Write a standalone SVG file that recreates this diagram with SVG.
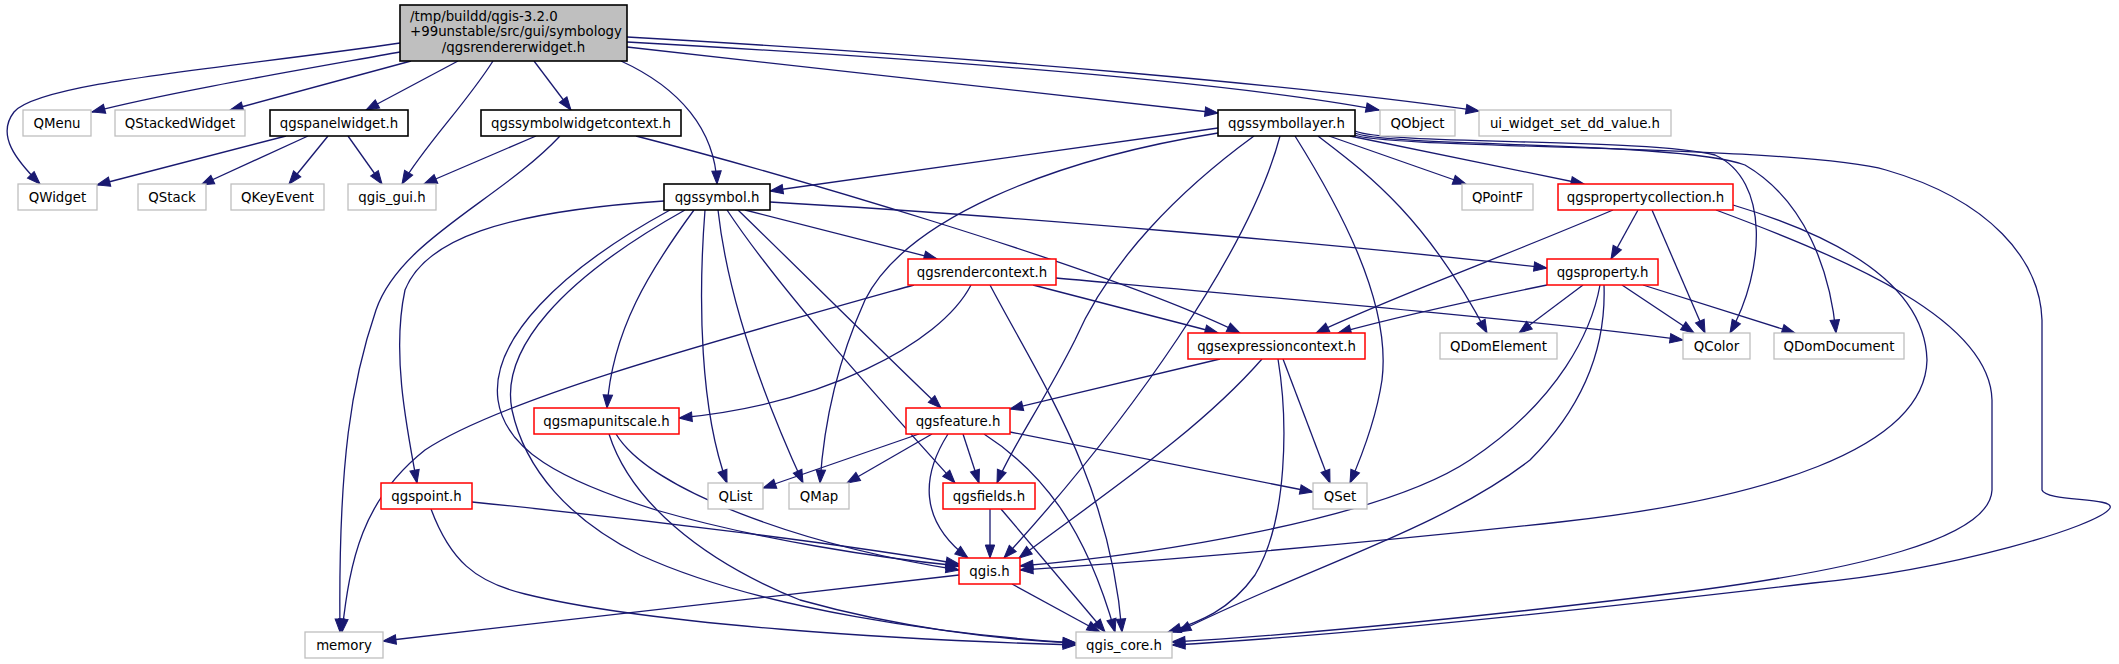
<svg xmlns="http://www.w3.org/2000/svg" width="2119" height="664" viewBox="0 0 2119 664">
<style>
.n rect{fill:#fff;stroke-width:1.3}
.g rect{stroke:#bfbfbf}
.b rect{stroke:#000;stroke-width:1.6}
.r rect{stroke:#ff0000;stroke-width:1.5}
.m rect{fill:#bfbfbf;stroke:#000;stroke-width:1.6}
text{font-family:"DejaVu Sans",sans-serif;font-size:13.33px;fill:#000;text-anchor:middle}
.e path{fill:none;stroke:#191970;stroke-width:1.3;marker-end:url(#arr)}
</style>
<defs>
<marker id="arr" markerUnits="userSpaceOnUse" markerWidth="14" markerHeight="10" refX="13" refY="4.7" orient="auto" overflow="visible"><path d="M0,0 L13,4.7 L0,9.4 z" fill="#191970" stroke="#191970" stroke-width="1"/></marker>
</defs>
<rect width="2119" height="664" fill="#fff"/>
<g id="connectors" class="e">
<path d="M400,43 C 230,68 40,82 14,112 C -4,135 16,160 40,184"/>
<path d="M400,52 C 300,70 170,92 92,112"/>
<path d="M411,61 L230,110"/>
<path d="M458,61 L366,110"/>
<path d="M493,61 C 465,105 425,145 402,184"/>
<path d="M534,61 L571,110"/>
<path d="M621,61 C 680,88 715,130 717,184"/>
<path d="M627,47 L1218,113"/>
<path d="M627,42 C 950,60 1230,82 1379,110"/>
<path d="M627,37 C 1000,58 1320,88 1479,111"/>
<path d="M286,136 L97,185"/>
<path d="M308,136 L201,185"/>
<path d="M328,136 L289,184"/>
<path d="M348,136 L382,184"/>
<path d="M536,136 L424,184"/>
<path d="M560,136 C 500,200 400,240 376,310 C 352,380 338,460 340,632"/>
<path d="M636,136 C 760,168 1100,265 1240,333"/>
<path d="M664,201 C 500,212 425,240 405,290 C 392,350 405,420 417,483"/>
<path d="M670,210 C 560,270 490,340 498,400 C 505,450 560,480 656,510 C 760,540 880,558 959,566"/>
<path d="M685,210 C 560,280 500,350 512,410 C 525,470 570,520 640,555 C 760,610 950,635 1076,643"/>
<path d="M694,210 C 650,270 612,330 607,408"/>
<path d="M705,210 C 698,300 700,410 727,483"/>
<path d="M718,210 C 728,300 765,400 803,483"/>
<path d="M727,210 C 780,290 880,400 955,483"/>
<path d="M738,210 C 800,270 875,345 941,408"/>
<path d="M745,210 L937,259"/>
<path d="M770,202 C 1000,215 1350,245 1547,268"/>
<path d="M1218,128 L770,191"/>
<path d="M1218,133 C 1050,160 905,220 865,300 C 838,360 824,420 820,483"/>
<path d="M1254,136 C 1180,190 1110,260 1075,340 C 1045,400 1010,450 997,483"/>
<path d="M1280,136 C 1250,250 1130,420 1004,558"/>
<path d="M1295,136 C 1335,200 1392,300 1382,380 C 1376,420 1360,460 1350,483"/>
<path d="M1318,136 C 1365,172 1425,215 1487,333"/>
<path d="M1329,136 L1466,184"/>
<path d="M1350,136 L1584,184"/>
<path d="M1355,131 C 1385,145 1650,138 1715,155 C 1770,180 1765,270 1730,333"/>
<path d="M1355,133 C 1385,147 1680,141 1745,165 C 1805,200 1830,270 1836,333"/>
<path d="M1355,135 C 1385,149 1800,145 1886,170 C 1990,200 2040,260 2042,320 L2042,490 C 2046,502 2115,497 2110,508 C 2100,526 1950,570 1813,583 C 1600,608 1350,635 1172,645"/>
<path d="M1638,210 L1611,259"/>
<path d="M1613,210 C 1500,258 1385,300 1316,333"/>
<path d="M1652,210 L1705,333"/>
<path d="M1733,205 C 1850,240 1925,290 1927,360 C 1925,450 1760,500 1560,522 C 1300,550 1100,565 1020,570"/>
<path d="M1716,210 C 1850,260 1990,320 1992,400 L1992,490 C 1990,540 1850,570 1700,590 C 1500,615 1300,635 1172,642"/>
<path d="M914,285 C 700,345 500,400 425,450 C 362,500 350,560 342,632"/>
<path d="M971,285 C 940,345 820,405 679,418"/>
<path d="M990,285 C 1040,380 1110,480 1122,632"/>
<path d="M1033,285 L1218,333"/>
<path d="M1056,278 C 1300,300 1550,322 1683,340"/>
<path d="M1547,285 C 1450,305 1385,320 1338,333"/>
<path d="M1583,285 L1519,333"/>
<path d="M1622,285 L1694,333"/>
<path d="M1643,285 L1795,333"/>
<path d="M1600,285 C 1592,330 1560,400 1470,460 C 1380,520 1150,555 1020,566"/>
<path d="M1604,285 C 1606,340 1590,400 1530,460 C 1440,530 1300,570 1178,632"/>
<path d="M1220,359 L1010,409"/>
<path d="M1262,359 C 1200,430 1110,490 1019,558"/>
<path d="M1278,359 C 1288,420 1288,520 1255,575 C 1230,610 1200,622 1168,632"/>
<path d="M1283,359 L1330,483"/>
<path d="M919,434 L763,488"/>
<path d="M932,434 L847,483"/>
<path d="M948,434 C 922,475 918,520 968,558"/>
<path d="M963,434 L979,483"/>
<path d="M984,434 C 1040,470 1085,525 1115,632"/>
<path d="M1010,432 L1313,492"/>
<path d="M990,509 L990,558"/>
<path d="M1001,509 L1105,632"/>
<path d="M959,575 L383,641"/>
<path d="M1012,584 L1100,632"/>
<path d="M472,502 C 650,520 850,545 959,564"/>
<path d="M431,509 C 450,560 475,582 525,594 C 650,625 900,640 1076,645"/>
<path d="M616,434 C 650,490 800,545 959,570"/>
<path d="M609,434 C 630,500 700,560 800,600 C 900,628 1000,640 1076,643"/>
</g>
<g id="main" class="n m"><rect x="400" y="5" width="227" height="56"/><text x="410" y="21" style="text-anchor:start">/tmp/buildd/qgis-3.2.0</text><text x="410" y="36" style="text-anchor:start">+99unstable/src/gui/symbology</text><text x="513.5" y="52">/qgsrendererwidget.h</text></g>
<g id="QMenu" class="n g"><rect x="23" y="110" width="68" height="26"/><text x="57" y="127.5">QMenu</text></g>
<g id="QStackedWidget" class="n g"><rect x="115" y="110" width="130" height="26"/><text x="180" y="127.5">QStackedWidget</text></g>
<g id="qgspanelwidget" class="n b"><rect x="270" y="110" width="138" height="26"/><text x="339" y="127.5">qgspanelwidget.h</text></g>
<g id="qgssymbolwidgetcontext" class="n b"><rect x="481" y="110" width="200" height="26"/><text x="581" y="127.5">qgssymbolwidgetcontext.h</text></g>
<g id="qgssymbollayer" class="n b"><rect x="1218" y="110" width="137" height="26"/><text x="1286.5" y="127.5">qgssymbollayer.h</text></g>
<g id="QObject" class="n g"><rect x="1380" y="110" width="75" height="26"/><text x="1417.5" y="127.5">QObject</text></g>
<g id="ui_widget_set_dd_value" class="n g"><rect x="1479" y="110" width="192" height="26"/><text x="1575" y="127.5">ui_widget_set_dd_value.h</text></g>
<g id="QWidget" class="n g"><rect x="18" y="184" width="79" height="26"/><text x="57.5" y="201.5">QWidget</text></g>
<g id="QStack" class="n g"><rect x="138" y="184" width="68" height="26"/><text x="172" y="201.5">QStack</text></g>
<g id="QKeyEvent" class="n g"><rect x="231" y="184" width="93" height="26"/><text x="277.5" y="201.5">QKeyEvent</text></g>
<g id="qgis_gui" class="n g"><rect x="348" y="184" width="88" height="26"/><text x="392" y="201.5">qgis_gui.h</text></g>
<g id="qgssymbol" class="n b"><rect x="664" y="184" width="106" height="26"/><text x="717" y="201.5">qgssymbol.h</text></g>
<g id="QPointF" class="n g"><rect x="1462" y="184" width="71" height="26"/><text x="1497.5" y="201.5">QPointF</text></g>
<g id="qgspropertycollection" class="n r"><rect x="1558" y="184" width="175" height="26"/><text x="1645.5" y="201.5">qgspropertycollection.h</text></g>
<g id="qgsrendercontext" class="n r"><rect x="908" y="259" width="148" height="26"/><text x="982" y="276.5">qgsrendercontext.h</text></g>
<g id="qgsproperty" class="n r"><rect x="1547" y="259" width="111" height="26"/><text x="1602.5" y="276.5">qgsproperty.h</text></g>
<g id="qgsexpressioncontext" class="n r"><rect x="1188" y="333" width="177" height="26"/><text x="1276.5" y="350.5">qgsexpressioncontext.h</text></g>
<g id="QDomElement" class="n g"><rect x="1440" y="333" width="117" height="26"/><text x="1498.5" y="350.5">QDomElement</text></g>
<g id="QColor" class="n g"><rect x="1683" y="333" width="67" height="26"/><text x="1716.5" y="350.5">QColor</text></g>
<g id="QDomDocument" class="n g"><rect x="1774" y="333" width="130" height="26"/><text x="1839" y="350.5">QDomDocument</text></g>
<g id="qgsmapunitscale" class="n r"><rect x="534" y="408" width="145" height="26"/><text x="606.5" y="425.5">qgsmapunitscale.h</text></g>
<g id="qgsfeature" class="n r"><rect x="906" y="408" width="104" height="26"/><text x="958" y="425.5">qgsfeature.h</text></g>
<g id="qgspoint" class="n r"><rect x="381" y="483" width="91" height="26"/><text x="426.5" y="500.5">qgspoint.h</text></g>
<g id="QList" class="n g"><rect x="708" y="483" width="55" height="26"/><text x="735.5" y="500.5">QList</text></g>
<g id="QMap" class="n g"><rect x="789" y="483" width="60" height="26"/><text x="819" y="500.5">QMap</text></g>
<g id="qgsfields" class="n r"><rect x="943" y="483" width="92" height="26"/><text x="989" y="500.5">qgsfields.h</text></g>
<g id="QSet" class="n g"><rect x="1313" y="483" width="54" height="26"/><text x="1340" y="500.5">QSet</text></g>
<g id="qgis" class="n r"><rect x="959" y="558" width="61" height="26"/><text x="989.5" y="575.5">qgis.h</text></g>
<g id="memory" class="n g"><rect x="305" y="632" width="78" height="26"/><text x="344" y="649.5">memory</text></g>
<g id="qgis_core" class="n g"><rect x="1076" y="632" width="96" height="26"/><text x="1124" y="649.5">qgis_core.h</text></g>
</svg>
